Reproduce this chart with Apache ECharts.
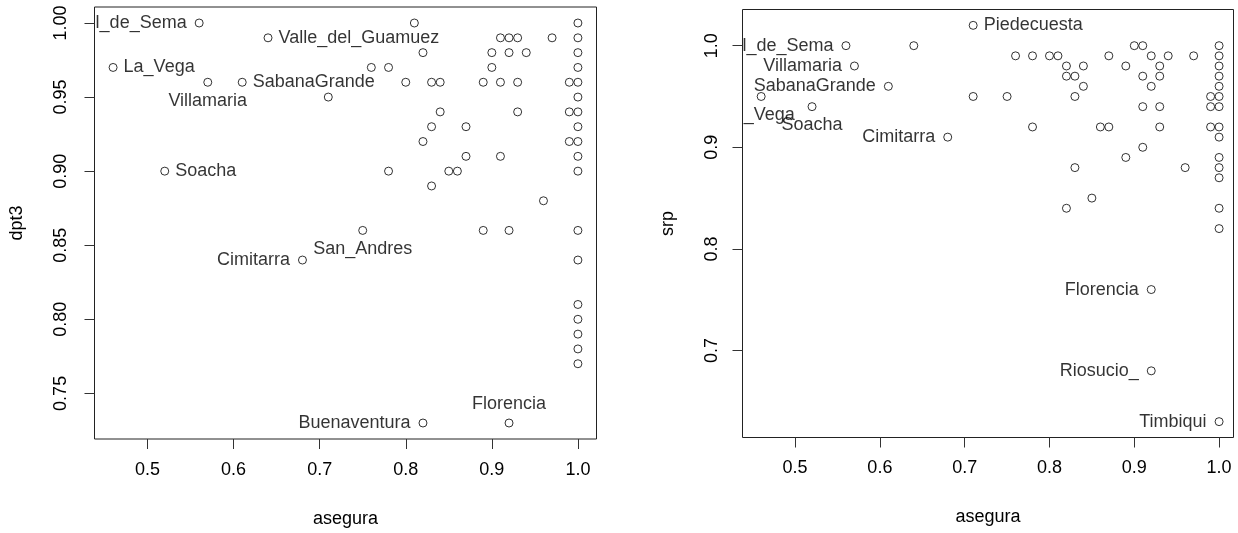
<!DOCTYPE html>
<html><head><meta charset="utf-8">
<script src="https://cdn.jsdelivr.net/npm/echarts@6/dist/echarts.min.js"></script>
<style>html,body{margin:0;padding:0;background:#fff}#c{width:1238px;height:533px}</style>
</head><body><div id="c"></div>
<script>
// ---- tick values ----
const xTicks = [0.5, 0.6, 0.7, 0.8, 0.9, 1.0];
const dpt3Ticks = [0.75, 0.80, 0.85, 0.90, 0.95, 1.00];
const srpTicks = [0.7, 0.8, 0.9, 1.0];

// ---- left panel: asegura vs dpt3 ----
const dpt3Names  = ['l_de_Sema','La_Vega','Villamaria','SabanaGrande','Valle_del_Guamuez','Soacha','Cimitarra','San_Andres','Buenaventura','Florencia'];
const dpt3NamedX = [0.56, 0.46, 0.57, 0.61, 0.64, 0.52, 0.68, 0.75, 0.82, 0.92];
const dpt3NamedY = [1.00, 0.97, 0.96, 0.96, 0.99, 0.90, 0.84, 0.86, 0.73, 0.73];
const dpt3OtherX = [0.71,0.81,0.91,0.92,0.93,0.97,0.82,0.90,0.92,0.94,0.76,0.78,0.90,0.80,0.83,0.84,0.89,0.91,0.93,0.99,0.84,0.93,0.99,0.83,0.87,0.82,0.99,0.87,0.91,0.78,0.85,0.86,0.83,0.96,0.89,0.92,
                    1.00,1.00,1.00,1.00,1.00,1.00,1.00,1.00,1.00,1.00,1.00,1.00,1.00,1.00,1.00,1.00,1.00,1.00];
const dpt3OtherY = [0.95,1.00,0.99,0.99,0.99,0.99,0.98,0.98,0.98,0.98,0.97,0.97,0.97,0.96,0.96,0.96,0.96,0.96,0.96,0.96,0.94,0.94,0.94,0.93,0.93,0.92,0.92,0.91,0.91,0.90,0.90,0.90,0.89,0.88,0.86,0.86,
                    1.00,0.99,0.98,0.97,0.96,0.95,0.94,0.93,0.92,0.91,0.90,0.86,0.84,0.81,0.80,0.79,0.78,0.77];

// ---- right panel: asegura vs srp ----
const srpNames  = ['Piedecuesta','l_de_Sema','Villamaria','SabanaGrande','_Vega','Soacha','Cimitarra','Florencia','Riosucio_','Timbiqui'];
const srpNamedX = [0.71, 0.56, 0.57, 0.61, 0.46, 0.52, 0.68, 0.92, 0.92, 1.00];
const srpNamedY = [1.02, 1.00, 0.98, 0.96, 0.95, 0.94, 0.91, 0.76, 0.68, 0.63];
const srpOtherX = [0.64,0.71,0.75,0.90,0.91,1.00,
                   0.76,0.78,0.80,0.81,0.87,0.92,0.94,0.97,1.00,
                   0.82,0.84,0.89,0.93,1.00,
                   0.82,0.83,0.91,0.93,1.00,
                   0.84,0.92,1.00,
                   0.83,0.99,1.00,
                   0.91,0.93,0.99,1.00,
                   0.78,0.86,0.87,0.93,0.99,1.00,
                   1.00,0.91,0.89,1.00,0.83,0.96,1.00,1.00,0.85,0.82,1.00,1.00];
const srpOtherY = [1.00,0.95,0.95,1.00,1.00,1.00,
                   0.99,0.99,0.99,0.99,0.99,0.99,0.99,0.99,0.99,
                   0.98,0.98,0.98,0.98,0.98,
                   0.97,0.97,0.97,0.97,0.97,
                   0.96,0.96,0.96,
                   0.95,0.95,0.95,
                   0.94,0.94,0.94,0.94,
                   0.92,0.92,0.92,0.92,0.92,0.92,
                   0.91,0.90,0.89,0.89,0.88,0.88,0.88,0.87,0.85,0.84,0.84,0.82];

// ---- label placement (style only) ----
const leftPlace = {
  'l_de_Sema':'left','La_Vega':'right','Villamaria':'bottom','SabanaGrande':'right',
  'Valle_del_Guamuez':'right','Soacha':'right','Cimitarra':'left','San_Andres':'bottom',
  'Buenaventura':'left','Florencia':'top'
};
const rightPlace = {
  'Piedecuesta':'right','l_de_Sema':'left','Villamaria':'left','SabanaGrande':'left',
  '_Vega':'bottom','Soacha':'bottom','Cimitarra':'left','Florencia':'left',
  'Riosucio_':'left','Timbiqui':'left'
};
const extraOffset = {'_Vega':[8,0]};

const FONT = 'Liberation Sans, Arial, sans-serif';
const TXT = {color:'#000', fontSize:18, fontFamily:FONT};

function pairs(xs, ys){ return xs.map((x,i)=>[x, ys[i]]); }
function named(names, xs, ys, place){
  return names.map((n,i)=>{
    const pos = place[n];
    const dist = pos==='left' ? 8 : (pos==='right' ? 6 : 5);
    return {name:n, value:[xs[i], ys[i]],
      label:{position:pos, distance:dist, offset: extraOffset[n] || [0,0]}};
  });
}

const sym = {
  type:'scatter', symbol:'circle', symbolSize:8, silent:true,
  itemStyle:{color:'rgba(0,0,0,0)', borderColor:'#000', borderWidth:1},
  emphasis:{disabled:true}
};

function xAxisDef(gi, min, max){
  return {
    type:'value', gridIndex:gi, min:min, max:max,
    name:'asegura', nameLocation:'middle', nameGap:71, nameTextStyle:TXT,
    axisLine:{show:false}, splitLine:{show:false},
    axisTick:{show:true, inside:false, length:10, customValues:xTicks, lineStyle:{color:'#333', width:1}},
    axisLabel:Object.assign({customValues:xTicks, margin:22, formatter:v=>v.toFixed(1)}, TXT)
  };
}
function yAxisDef(gi, min, max, name, ticks, dec, margin, gap){
  return {
    type:'value', gridIndex:gi, min:min, max:max,
    name:name, nameLocation:'middle', nameGap:gap, nameRotate:90, nameTextStyle:TXT,
    axisLine:{show:false}, splitLine:{show:false},
    axisTick:{show:true, inside:false, length:10, customValues:ticks, lineStyle:{color:'#333', width:1}},
    axisLabel:Object.assign({customValues:ticks, margin:margin, rotate:90, formatter:v=>v.toFixed(dec)}, TXT)
  };
}

const chart = echarts.init(document.getElementById('c'), null, {renderer:'canvas'});
chart.setOption({
  animation:false,
  backgroundColor:'#fff',
  grid:[
    {left:94.5, top:7, width:502, height:435, show:true, borderColor:'#222', borderWidth:1, backgroundColor:'rgba(0,0,0,0)'},
    {left:742.5, top:9.5, width:491, height:428, show:true, borderColor:'#222', borderWidth:1, backgroundColor:'rgba(0,0,0,0)'}
  ],
  xAxis:[ xAxisDef(0, 0.4384, 1.0216), xAxisDef(1, 0.438, 1.017) ],
  yAxis:[ yAxisDef(0, 0.7192, 1.0108, 'dpt3', dpt3Ticks, 2, 24, 68), yAxisDef(1, 0.6144, 1.0356, 'srp', srpTicks, 1, 21, 65) ],
  series:[
    Object.assign({}, sym, {xAxisIndex:0, yAxisIndex:0, data:pairs(dpt3OtherX, dpt3OtherY)}),
    Object.assign({}, sym, {xAxisIndex:0, yAxisIndex:0, data:named(dpt3Names, dpt3NamedX, dpt3NamedY, leftPlace),
      label:Object.assign({show:true, formatter:'{b}'}, TXT)}),
    Object.assign({}, sym, {xAxisIndex:1, yAxisIndex:1, data:pairs(srpOtherX, srpOtherY)}),
    Object.assign({}, sym, {xAxisIndex:1, yAxisIndex:1, data:named(srpNames, srpNamedX, srpNamedY, rightPlace),
      label:Object.assign({show:true, formatter:'{b}'}, TXT)})
  ]
});
</script></body></html>
